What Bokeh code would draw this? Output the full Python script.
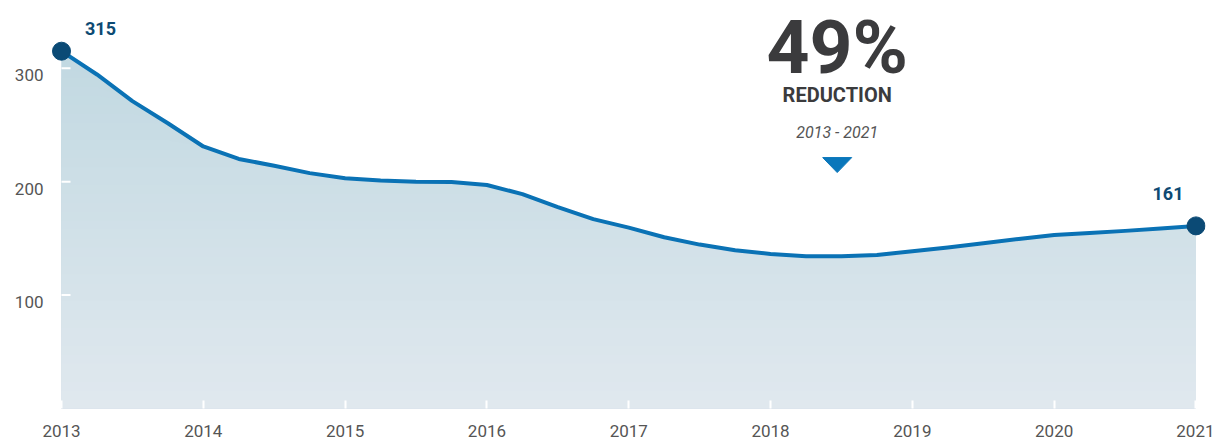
import numpy as np
from bokeh.plotting import figure
from bokeh.models import Range1d, FixedTicker
from bokeh.core.properties import value
from bokeh.embed import file_html
from bokeh.resources import INLINE

# ---- data ----
years = [2013.0, 2013.25, 2013.5, 2013.75, 2014.0, 2014.25, 2014.5, 2014.75,
         2015.0, 2015.25, 2015.5, 2015.75, 2016.0, 2016.25, 2016.5, 2016.75,
         2017.0, 2017.25, 2017.5, 2017.75, 2018.0, 2018.25, 2018.5, 2018.75,
         2019.0, 2019.25, 2019.5, 2019.75, 2020.0, 2020.25, 2020.5, 2020.75,
         2021.0]
values = [315, 294.5, 271, 251.5, 231, 220, 214, 207.5,
          203, 201, 200, 199.7, 197, 189, 177.5, 167,
          159.5, 151, 144.5, 139.5, 136.3, 134.3, 134.2, 135.4,
          138.6, 142, 145.6, 149.5, 153, 154.8, 156.6, 158.6,
          161]
x_ticks = [2013, 2014, 2015, 2016, 2017, 2018, 2019, 2020, 2021]
y_ticks = [100, 200, 300]

# annotation anchor (apex of the small triangle)
ANNOT_X = 2018.47
ANNOT_Y = 208

FONT = "Roboto"
PX_X = 141.75      # pixels per year
PX_Y = 1.1343      # pixels per unit
Y_END = 359.7
LABEL_SHIFT = 7 / PX_Y   # y tick labels sit just below their tick

p = figure(width=1214, height=446, output_backend="svg", toolbar_location=None,
           x_range=Range1d(2013 - 10 / PX_X, 2021 + 9.5 / PX_X),
           y_range=Range1d(LABEL_SHIFT, Y_END + LABEL_SHIFT),
           min_border_left=51, min_border_right=9, min_border_top=0,
           min_border_bottom=38)
p.outline_line_color = None
p.xgrid.visible = False
p.ygrid.visible = False
p.background_fill_color = "white"
p.border_fill_color = "white"

# The main y range is shifted so the axis labels sit just below each tick;
# all data is drawn on the unshifted "data" range.
p.extra_y_ranges = {"data": Range1d(0, Y_END)}
D = dict(y_range_name="data")

# ---- gradient area (stacked bands, light at the bottom) ----
vals = np.array(values, dtype=float)
top_c = np.array([194, 217, 226])
bot_c = np.array([225, 233, 239])
levels = np.linspace(0, vals.max(), 41)[1:][::-1]
for lv in levels:
    t = lv / vals.max()
    c = (bot_c + (top_c - bot_c) * t).astype(int)
    p.varea(x=years, y1=np.zeros_like(vals), y2=np.minimum(vals, lv),
            fill_color="#%02x%02x%02x" % tuple(c), **D)

# white tick marks inside the area at the y ticks
p.segment(x0=[x_ticks[0]] * len(y_ticks), x1=[x_ticks[0] + 9 / PX_X] * len(y_ticks),
          y0=y_ticks, y1=y_ticks, line_color="white", line_width=2, **D)

# ---- line and end markers ----
p.line(years, values, line_color="#0a72b5", line_width=4, line_join="round", **D)
p.scatter([years[0], years[-1]], [values[0], values[-1]], size=18,
          fill_color="#0b4a75", line_color="#0b4a75", **D)

p.text(x=[years[0]], y=[values[0]], text=[f"{values[0]:.0f}"], x_offset=39,
       y_offset=-23, text_align="center", text_baseline="alphabetic",
       text_font=value(FONT), text_font_style="bold", text_font_size="18px",
       text_color="#0d4a73", **D)
p.text(x=[years[-1]], y=[values[-1]], text=[f"{values[-1]:.0f}"], x_offset=-28,
       y_offset=-32, text_align="center", text_baseline="alphabetic",
       text_font=value(FONT), text_font_style="bold", text_font_size="18px",
       text_color="#0d4a73", **D)

# ---- reduction annotation ----
pct = round((values[0] - values[-1]) / values[0] * 100)
p.text(x=[ANNOT_X], y=[ANNOT_Y], text=[f"{pct}%"], y_offset=-126,
       text_align="center", text_baseline="alphabetic", text_font=value(FONT),
       text_font_style="bold", text_font_size="75px", text_color="#3b3b3d", **D)
p.text(x=[ANNOT_X], y=[ANNOT_Y], text=["REDUCTION"], y_offset=-78,
       text_align="center", text_baseline="alphabetic", text_font=value(FONT),
       text_font_style="bold", text_font_size="20px", text_color="#3b3b3d", **D)
p.text(x=[ANNOT_X], y=[ANNOT_Y], text=[f"{int(years[0])} - {int(years[-1])}"],
       y_offset=-40, text_align="center", text_baseline="alphabetic",
       text_font=value(FONT), text_font_style="italic", text_font_size="16px",
       text_color="#555555", **D)
hw = 14.5 / PX_X
hh = 15 / PX_Y
p.patch(x=[ANNOT_X - hw, ANNOT_X + hw, ANNOT_X],
        y=[ANNOT_Y + hh, ANNOT_Y + hh, ANNOT_Y],
        fill_color="#0a77bb", line_color="#0a77bb", **D)

# ---- axes ----
p.xaxis.ticker = FixedTicker(ticks=x_ticks)
p.yaxis.ticker = FixedTicker(ticks=y_ticks)

for ax in (p.xaxis[0], p.yaxis[0]):
    ax.axis_line_color = None
    ax.major_tick_line_color = "white"
    ax.major_tick_line_width = 2
    ax.major_tick_out = 0
    ax.minor_tick_line_color = None
    ax.major_label_text_font = FONT
    ax.major_label_text_font_size = "17px"
    ax.major_label_text_color = "#555555"
p.xaxis.major_tick_in = 8
p.xaxis.major_label_standoff = 16

p.yaxis.major_tick_line_color = None
p.yaxis.major_tick_in = 0
p.yaxis.major_label_standoff = 8

open("out.html", "w").write(file_html(p, INLINE))
